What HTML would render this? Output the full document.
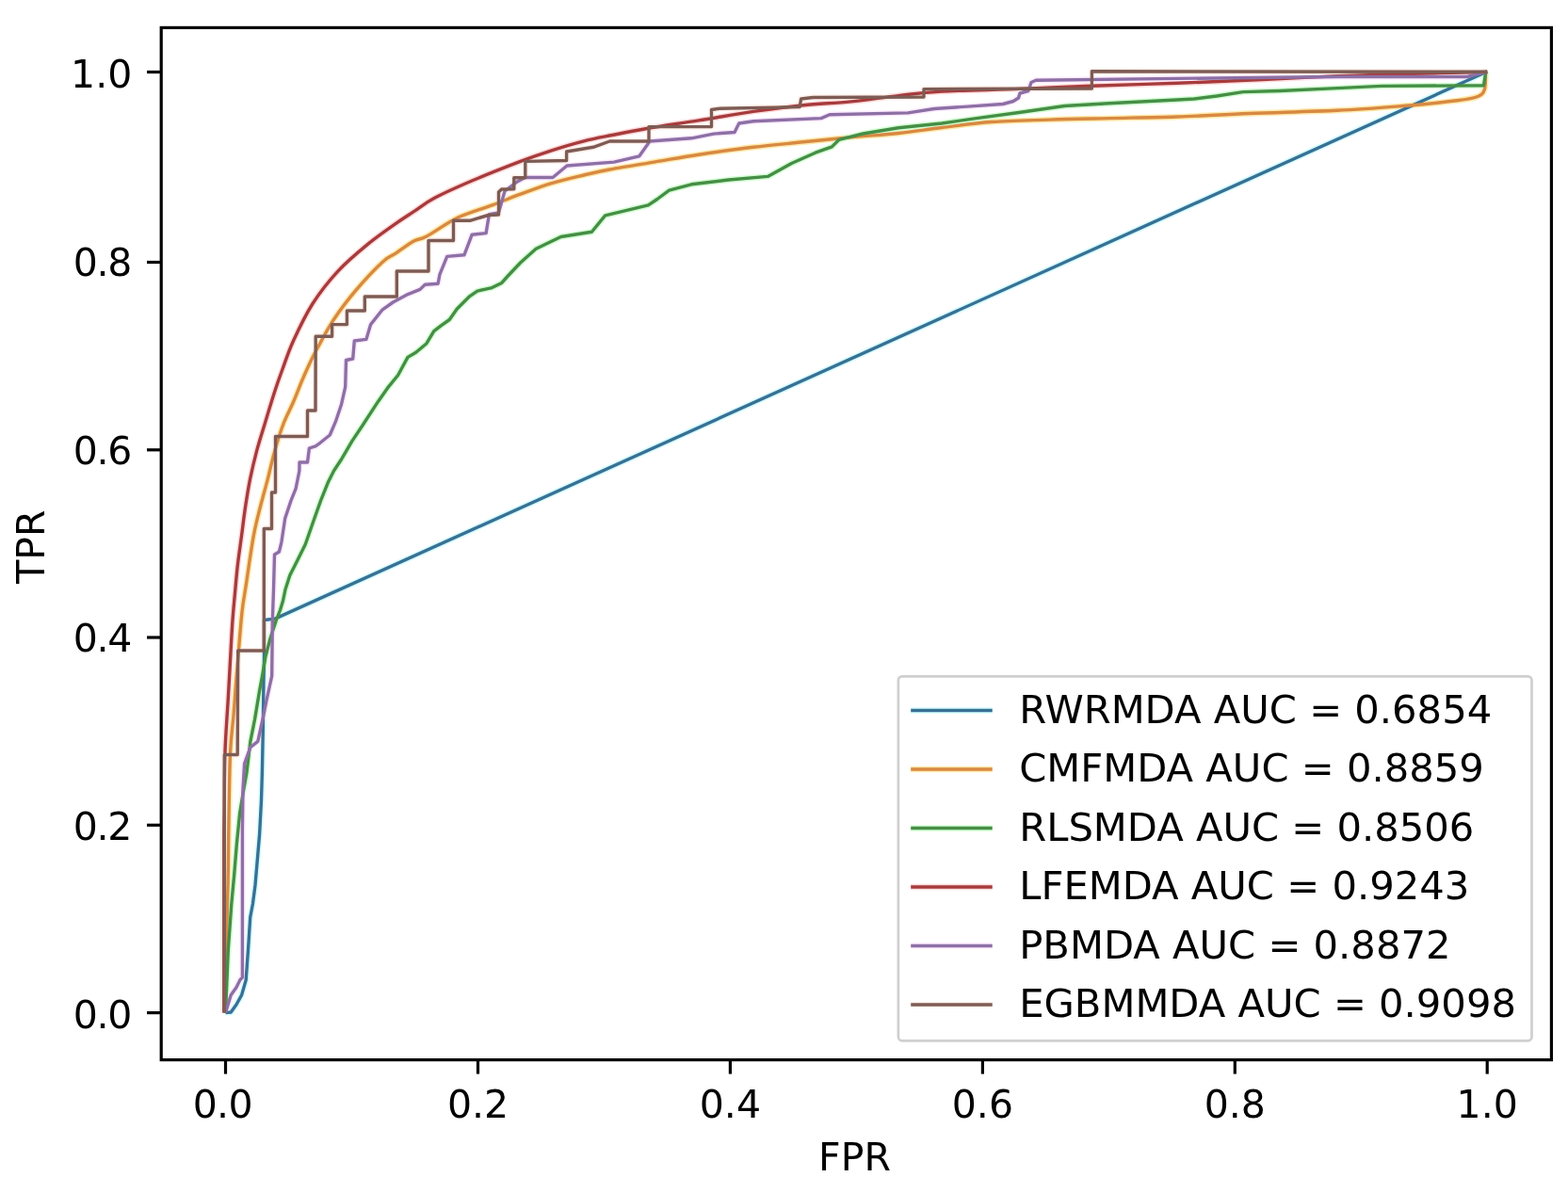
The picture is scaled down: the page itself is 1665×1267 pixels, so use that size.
<!DOCTYPE html>
<html><head><meta charset="utf-8"><title>ROC</title>
<style>
html,body{margin:0;padding:0;background:#fff;overflow:hidden}
svg{display:block}

.t{font-family:"DejaVu Sans","Liberation Sans",sans-serif;font-size:41px;fill:#000}
.t.lg{font-size:41.7px}
</style></head><body>
<svg width="1665" height="1267" viewBox="0 0 1665 1267">
<rect x="0" y="0" width="1665" height="1267" fill="#fff"/>
<path d="M239.5,1075.6 L245.2,1075.0 L250.9,1067.0 L256.6,1056.7 L261.2,1040.7 L263.5,1008.6 L265.7,974.3 L268.4,960.0 L271.0,940.0 L272.8,919.0 L275.6,886.0 L277.5,850.0 L278.4,820.0 L279.3,775.0 L280.0,720.0 L280.5,700.0 L280.5,658.5 L292.0,657.1 L1579.2,76.0" fill="none" stroke="#d2ffff" stroke-width="6.4" stroke-linejoin="round" stroke-linecap="butt"/>
<path d="M239.3,1075.6 C239.5,1063.0 240.1,1022.6 240.5,1000.0 C240.9,977.4 241.6,960.0 242.0,940.0 C242.4,920.0 242.4,903.3 242.8,880.0 C243.2,856.7 243.6,820.0 244.5,800.0 C245.4,780.0 246.9,773.3 248.0,760.0 C249.1,746.7 250.1,731.7 251.0,720.0 C251.9,708.3 252.5,702.0 253.5,690.0 C254.5,678.0 255.9,659.4 257.2,648.3 C258.4,637.1 259.0,636.4 261.0,623.1 C263.0,609.8 266.7,582.9 269.4,568.4 C272.1,553.9 274.5,545.9 277.0,536.0 C279.5,526.1 281.7,518.9 284.2,509.2 C286.7,499.5 289.2,487.9 292.0,478.0 C294.8,468.1 297.8,458.3 301.0,450.0 C304.2,441.7 307.4,436.3 311.0,428.0 C314.6,419.7 318.7,408.6 322.5,400.0 C326.3,391.4 328.4,386.2 333.6,376.2 C338.9,366.2 346.6,351.3 354.0,340.0 C361.4,328.7 369.1,318.7 377.8,308.4 C386.5,298.1 399.0,284.9 406.0,278.4 C413.0,271.8 414.4,272.8 420.0,269.1 C425.6,265.4 433.9,259.0 439.4,256.0 C444.9,253.0 445.3,255.1 453.1,250.9 C460.9,246.7 474.7,236.5 486.3,231.0 C497.9,225.5 511.7,221.9 522.7,217.8 C533.8,213.7 542.1,210.1 552.6,206.2 C563.1,202.3 574.5,198.0 585.7,194.6 C596.9,191.2 609.7,188.4 620.0,186.0 C630.3,183.6 634.9,182.3 647.4,180.0 C659.9,177.7 678.9,174.7 694.7,172.1 C710.5,169.5 724.5,166.8 742.0,164.2 C759.5,161.6 781.5,158.5 800.0,156.3 C818.5,154.1 835.8,152.6 853.1,150.8 C870.4,149.1 886.8,147.4 903.6,145.8 C920.4,144.2 938.0,143.2 954.1,141.5 C970.2,139.8 983.6,137.5 1000.0,135.5 C1016.4,133.5 1033.3,130.9 1052.5,129.5 C1071.7,128.1 1094.1,127.8 1114.9,127.1 C1135.7,126.4 1154.9,126.1 1177.4,125.6 C1199.9,125.1 1225.2,124.8 1250.0,124.0 C1274.8,123.2 1298.2,121.6 1326.5,120.5 C1354.8,119.4 1392.8,118.6 1420.0,117.3 C1447.2,116.0 1468.7,114.2 1489.9,112.5 C1511.1,110.8 1533.7,108.5 1547.0,106.8 C1560.3,105.1 1564.9,104.3 1569.8,102.2 C1574.7,100.1 1575.3,98.4 1576.6,94.2 C1577.7,90.0 1577.3,80.0 1577.7,77.0 C1578.1,76.5 1579.0,76.6 1579.2,76.5" fill="none" stroke="#ffeaac" stroke-width="6.4" stroke-linejoin="round" stroke-linecap="butt"/>
<path d="M239.5,1075.6 L242.3,1008.6 L245.8,960.0 L248.6,930.0 L251.3,897.0 L254.6,864.0 L258.0,843.0 L262.0,820.0 L265.9,787.3 L270.6,763.6 L275.3,735.2 L279.0,715.0 L282.0,697.0 L287.0,678.0 L293.0,659.4 L297.5,648.0 L300.5,638.0 L303.0,626.0 L307.8,611.1 L315.4,596.0 L324.2,578.3 L333.0,553.0 L340.6,531.6 L348.2,512.6 L354.5,500.0 L362.9,487.2 L373.9,468.4 L385.0,451.8 L401.5,426.4 L412.5,410.8 L422.6,398.5 L433.0,379.4 L441.7,374.2 L453.0,364.7 L460.8,351.6 L468.6,345.6 L477.3,339.5 L485.1,328.2 L498.1,315.2 L506.8,309.1 L522.4,305.6 L532.8,300.4 L538.9,293.5 L552.6,279.0 L569.1,264.2 L595.6,251.5 L628.4,246.3 L642.6,228.9 L688.4,217.9 L697.9,211.5 L710.5,202.1 L734.2,195.8 L773.6,191.0 L815.3,187.4 L840.5,173.5 L865.8,162.2 L883.4,155.9 L891.0,148.3 L916.3,142.0 L954.1,135.7 L1000.0,131.0 L1036.8,125.6 L1083.7,119.3 L1130.5,112.5 L1177.4,109.8 L1250.0,106.0 L1268.0,105.0 L1292.0,102.0 L1320.0,97.6 L1359.0,96.5 L1420.0,93.6 L1467.0,91.4 L1575.5,90.8 L1577.7,76.5 L1579.2,76.5" fill="none" stroke="#d3ffd3" stroke-width="6.4" stroke-linejoin="round" stroke-linecap="butt"/>
<path d="M237.8,1075.6 C237.8,1046.3 237.8,935.9 237.8,900.0 C237.9,864.1 238.0,877.0 238.2,860.0 C238.4,843.0 238.3,817.5 239.0,798.0 C239.7,778.5 241.1,761.8 242.2,743.0 C243.3,724.2 244.6,699.3 245.4,685.0 C246.2,670.7 246.4,666.8 247.1,657.2 C247.8,647.6 248.8,637.5 249.7,627.6 C250.6,617.7 251.4,607.9 252.6,598.0 C253.8,588.1 255.3,578.3 256.6,568.4 C257.9,558.5 259.0,548.7 260.5,538.8 C262.0,528.9 263.5,519.1 265.5,509.2 C267.5,499.3 269.8,489.5 272.4,479.6 C275.0,469.7 278.1,460.3 281.2,450.0 C284.3,439.7 287.9,427.7 291.0,418.0 C294.1,408.3 296.6,401.3 300.0,392.0 C303.4,382.7 306.2,373.6 311.5,362.0 C316.8,350.4 324.1,334.9 332.0,322.5 C339.9,310.1 349.2,298.3 359.0,287.8 C368.8,277.3 380.3,267.8 390.5,259.4 C400.7,251.0 411.9,243.4 420.0,237.6 C428.1,231.8 432.5,229.2 439.4,224.7 C446.3,220.1 450.8,215.9 461.4,210.3 C472.0,204.7 487.6,197.8 502.8,191.3 C518.0,184.8 538.8,176.7 552.6,171.4 C566.4,166.2 574.5,163.4 585.7,159.8 C596.9,156.2 609.3,152.5 620.0,149.8 C630.7,147.1 638.9,145.7 650.0,143.5 C661.1,141.3 671.5,139.1 686.8,136.5 C702.1,133.9 723.1,130.9 742.0,127.9 C760.9,124.9 781.5,121.1 800.0,118.4 C818.5,115.7 835.8,113.5 853.1,111.7 C870.4,110.0 886.8,109.6 903.6,107.9 C920.4,106.2 938.0,103.4 954.1,101.6 C970.2,99.8 978.4,98.3 1000.0,97.1 C1021.6,95.9 1057.3,95.4 1083.7,94.4 C1110.1,93.4 1130.9,92.2 1158.6,91.2 C1186.3,90.2 1219.8,89.3 1250.0,88.2 C1280.2,87.1 1311.7,85.7 1340.0,84.5 C1368.3,83.3 1393.1,81.8 1420.0,80.8 C1446.9,79.8 1474.8,79.0 1501.3,78.3 C1527.8,77.6 1566.2,76.8 1579.2,76.5" fill="none" stroke="#ffdbdc" stroke-width="6.4" stroke-linejoin="round" stroke-linecap="butt"/>
<path d="M239.5,1075.6 L245.2,1056.7 L250.9,1048.7 L254.9,1040.7 L257.4,1038.0 L257.4,880.0 L258.0,837.8 L259.6,811.0 L265.9,793.6 L273.8,787.3 L280.0,759.0 L283.2,743.0 L288.7,717.9 L289.3,660.0 L290.5,626.0 L291.5,589.0 L296.4,586.0 L298.9,575.8 L302.7,550.5 L309.0,531.6 L314.1,518.9 L317.9,500.0 L318.0,491.0 L326.5,491.0 L328.4,476.0 L335.0,473.8 L340.0,470.3 L350.3,462.0 L356.4,447.7 L362.6,429.2 L366.7,410.8 L367.5,382.5 L374.7,381.0 L376.3,362.0 L388.9,360.4 L393.6,344.6 L406.2,328.8 L417.3,321.0 L433.0,312.6 L446.0,307.4 L451.3,302.2 L465.1,301.3 L466.9,291.7 L474.7,272.4 L492.9,270.8 L501.2,249.2 L516.1,247.6 L519.4,227.7 L529.4,226.0 L536.0,203.0 L549.2,192.9 L557.5,188.5 L587.0,188.5 L602.0,176.0 L652.0,172.1 L678.9,165.8 L690.0,150.0 L734.2,146.8 L757.9,142.1 L780.0,140.5 L784.7,131.0 L800.0,128.7 L872.0,125.6 L880.9,121.8 L964.2,119.9 L992.0,115.5 L1027.5,113.1 L1065.0,110.5 L1076.0,107.5 L1081.5,104.0 L1083.0,99.0 L1092.0,96.5 L1095.0,87.5 L1100.0,85.2 L1250.0,83.4 L1420.0,81.5 L1558.0,81.5 L1575.0,77.0 L1579.2,76.5" fill="none" stroke="#ffebff" stroke-width="6.4" stroke-linejoin="round" stroke-linecap="butt"/>
<path d="M238.3,1075.6 L238.3,801.5 L252.2,801.5 L252.7,691.0 L280.3,691.0 L280.3,561.5 L288.5,561.5 L288.5,523.0 L292.5,523.0 L292.5,463.5 L326.5,463.5 L326.5,436.0 L335.0,436.0 L335.2,357.3 L352.6,357.3 L352.6,344.6 L368.4,344.6 L368.4,330.0 L387.3,330.0 L387.3,315.0 L421.3,315.0 L421.3,288.0 L455.0,288.0 L455.0,255.5 L481.5,255.5 L481.5,234.3 L499.0,234.3 L518.6,228.5 L529.5,228.0 L529.5,204.0 L532.6,201.0 L545.8,200.8 L545.8,188.8 L557.8,188.8 L557.8,171.4 L601.6,170.5 L601.6,161.0 L630.0,156.3 L647.4,150.0 L689.0,150.0 L689.0,134.6 L755.5,134.6 L755.5,116.5 L764.2,115.3 L849.3,113.6 L850.6,105.0 L863.2,103.5 L981.0,103.0 L981.0,94.6 L1159.4,94.0 L1159.4,75.8 L1579.2,76.3" fill="none" stroke="#fff0ea" stroke-width="6.4" stroke-linejoin="round" stroke-linecap="butt"/>
<path d="M239.5,1075.6 L245.2,1075.0 L250.9,1067.0 L256.6,1056.7 L261.2,1040.7 L263.5,1008.6 L265.7,974.3 L268.4,960.0 L271.0,940.0 L272.8,919.0 L275.6,886.0 L277.5,850.0 L278.4,820.0 L279.3,775.0 L280.0,720.0 L280.5,700.0 L280.5,658.5 L292.0,657.1 L1579.2,76.0" fill="none" stroke="#397095" stroke-width="3.4" stroke-linejoin="round" stroke-linecap="butt"/>
<path d="M239.3,1075.6 C239.5,1063.0 240.1,1022.6 240.5,1000.0 C240.9,977.4 241.6,960.0 242.0,940.0 C242.4,920.0 242.4,903.3 242.8,880.0 C243.2,856.7 243.6,820.0 244.5,800.0 C245.4,780.0 246.9,773.3 248.0,760.0 C249.1,746.7 250.1,731.7 251.0,720.0 C251.9,708.3 252.5,702.0 253.5,690.0 C254.5,678.0 255.9,659.4 257.2,648.3 C258.4,637.1 259.0,636.4 261.0,623.1 C263.0,609.8 266.7,582.9 269.4,568.4 C272.1,553.9 274.5,545.9 277.0,536.0 C279.5,526.1 281.7,518.9 284.2,509.2 C286.7,499.5 289.2,487.9 292.0,478.0 C294.8,468.1 297.8,458.3 301.0,450.0 C304.2,441.7 307.4,436.3 311.0,428.0 C314.6,419.7 318.7,408.6 322.5,400.0 C326.3,391.4 328.4,386.2 333.6,376.2 C338.9,366.2 346.6,351.3 354.0,340.0 C361.4,328.7 369.1,318.7 377.8,308.4 C386.5,298.1 399.0,284.9 406.0,278.4 C413.0,271.8 414.4,272.8 420.0,269.1 C425.6,265.4 433.9,259.0 439.4,256.0 C444.9,253.0 445.3,255.1 453.1,250.9 C460.9,246.7 474.7,236.5 486.3,231.0 C497.9,225.5 511.7,221.9 522.7,217.8 C533.8,213.7 542.1,210.1 552.6,206.2 C563.1,202.3 574.5,198.0 585.7,194.6 C596.9,191.2 609.7,188.4 620.0,186.0 C630.3,183.6 634.9,182.3 647.4,180.0 C659.9,177.7 678.9,174.7 694.7,172.1 C710.5,169.5 724.5,166.8 742.0,164.2 C759.5,161.6 781.5,158.5 800.0,156.3 C818.5,154.1 835.8,152.6 853.1,150.8 C870.4,149.1 886.8,147.4 903.6,145.8 C920.4,144.2 938.0,143.2 954.1,141.5 C970.2,139.8 983.6,137.5 1000.0,135.5 C1016.4,133.5 1033.3,130.9 1052.5,129.5 C1071.7,128.1 1094.1,127.8 1114.9,127.1 C1135.7,126.4 1154.9,126.1 1177.4,125.6 C1199.9,125.1 1225.2,124.8 1250.0,124.0 C1274.8,123.2 1298.2,121.6 1326.5,120.5 C1354.8,119.4 1392.8,118.6 1420.0,117.3 C1447.2,116.0 1468.7,114.2 1489.9,112.5 C1511.1,110.8 1533.7,108.5 1547.0,106.8 C1560.3,105.1 1564.9,104.3 1569.8,102.2 C1574.7,100.1 1575.3,98.4 1576.6,94.2 C1577.7,90.0 1577.3,80.0 1577.7,77.0 C1578.1,76.5 1579.0,76.6 1579.2,76.5" fill="none" stroke="#d88943" stroke-width="3.4" stroke-linejoin="round" stroke-linecap="butt"/>
<path d="M239.5,1075.6 L242.3,1008.6 L245.8,960.0 L248.6,930.0 L251.3,897.0 L254.6,864.0 L258.0,843.0 L262.0,820.0 L265.9,787.3 L270.6,763.6 L275.3,735.2 L279.0,715.0 L282.0,697.0 L287.0,678.0 L293.0,659.4 L297.5,648.0 L300.5,638.0 L303.0,626.0 L307.8,611.1 L315.4,596.0 L324.2,578.3 L333.0,553.0 L340.6,531.6 L348.2,512.6 L354.5,500.0 L362.9,487.2 L373.9,468.4 L385.0,451.8 L401.5,426.4 L412.5,410.8 L422.6,398.5 L433.0,379.4 L441.7,374.2 L453.0,364.7 L460.8,351.6 L468.6,345.6 L477.3,339.5 L485.1,328.2 L498.1,315.2 L506.8,309.1 L522.4,305.6 L532.8,300.4 L538.9,293.5 L552.6,279.0 L569.1,264.2 L595.6,251.5 L628.4,246.3 L642.6,228.9 L688.4,217.9 L697.9,211.5 L710.5,202.1 L734.2,195.8 L773.6,191.0 L815.3,187.4 L840.5,173.5 L865.8,162.2 L883.4,155.9 L891.0,148.3 L916.3,142.0 L954.1,135.7 L1000.0,131.0 L1036.8,125.6 L1083.7,119.3 L1130.5,112.5 L1177.4,109.8 L1250.0,106.0 L1268.0,105.0 L1292.0,102.0 L1320.0,97.6 L1359.0,96.5 L1420.0,93.6 L1467.0,91.4 L1575.5,90.8 L1577.7,76.5 L1579.2,76.5" fill="none" stroke="#468e46" stroke-width="3.4" stroke-linejoin="round" stroke-linecap="butt"/>
<path d="M237.8,1075.6 C237.8,1046.3 237.8,935.9 237.8,900.0 C237.9,864.1 238.0,877.0 238.2,860.0 C238.4,843.0 238.3,817.5 239.0,798.0 C239.7,778.5 241.1,761.8 242.2,743.0 C243.3,724.2 244.6,699.3 245.4,685.0 C246.2,670.7 246.4,666.8 247.1,657.2 C247.8,647.6 248.8,637.5 249.7,627.6 C250.6,617.7 251.4,607.9 252.6,598.0 C253.8,588.1 255.3,578.3 256.6,568.4 C257.9,558.5 259.0,548.7 260.5,538.8 C262.0,528.9 263.5,519.1 265.5,509.2 C267.5,499.3 269.8,489.5 272.4,479.6 C275.0,469.7 278.1,460.3 281.2,450.0 C284.3,439.7 287.9,427.7 291.0,418.0 C294.1,408.3 296.6,401.3 300.0,392.0 C303.4,382.7 306.2,373.6 311.5,362.0 C316.8,350.4 324.1,334.9 332.0,322.5 C339.9,310.1 349.2,298.3 359.0,287.8 C368.8,277.3 380.3,267.8 390.5,259.4 C400.7,251.0 411.9,243.4 420.0,237.6 C428.1,231.8 432.5,229.2 439.4,224.7 C446.3,220.1 450.8,215.9 461.4,210.3 C472.0,204.7 487.6,197.8 502.8,191.3 C518.0,184.8 538.8,176.7 552.6,171.4 C566.4,166.2 574.5,163.4 585.7,159.8 C596.9,156.2 609.3,152.5 620.0,149.8 C630.7,147.1 638.9,145.7 650.0,143.5 C661.1,141.3 671.5,139.1 686.8,136.5 C702.1,133.9 723.1,130.9 742.0,127.9 C760.9,124.9 781.5,121.1 800.0,118.4 C818.5,115.7 835.8,113.5 853.1,111.7 C870.4,110.0 886.8,109.6 903.6,107.9 C920.4,106.2 938.0,103.4 954.1,101.6 C970.2,99.8 978.4,98.3 1000.0,97.1 C1021.6,95.9 1057.3,95.4 1083.7,94.4 C1110.1,93.4 1130.9,92.2 1158.6,91.2 C1186.3,90.2 1219.8,89.3 1250.0,88.2 C1280.2,87.1 1311.7,85.7 1340.0,84.5 C1368.3,83.3 1393.1,81.8 1420.0,80.8 C1446.9,79.8 1474.8,79.0 1501.3,78.3 C1527.8,77.6 1566.2,76.8 1579.2,76.5" fill="none" stroke="#a73b3c" stroke-width="3.4" stroke-linejoin="round" stroke-linecap="butt"/>
<path d="M239.5,1075.6 L245.2,1056.7 L250.9,1048.7 L254.9,1040.7 L257.4,1038.0 L257.4,880.0 L258.0,837.8 L259.6,811.0 L265.9,793.6 L273.8,787.3 L280.0,759.0 L283.2,743.0 L288.7,717.9 L289.3,660.0 L290.5,626.0 L291.5,589.0 L296.4,586.0 L298.9,575.8 L302.7,550.5 L309.0,531.6 L314.1,518.9 L317.9,500.0 L318.0,491.0 L326.5,491.0 L328.4,476.0 L335.0,473.8 L340.0,470.3 L350.3,462.0 L356.4,447.7 L362.6,429.2 L366.7,410.8 L367.5,382.5 L374.7,381.0 L376.3,362.0 L388.9,360.4 L393.6,344.6 L406.2,328.8 L417.3,321.0 L433.0,312.6 L446.0,307.4 L451.3,302.2 L465.1,301.3 L466.9,291.7 L474.7,272.4 L492.9,270.8 L501.2,249.2 L516.1,247.6 L519.4,227.7 L529.4,226.0 L536.0,203.0 L549.2,192.9 L557.5,188.5 L587.0,188.5 L602.0,176.0 L652.0,172.1 L678.9,165.8 L690.0,150.0 L734.2,146.8 L757.9,142.1 L780.0,140.5 L784.7,131.0 L800.0,128.7 L872.0,125.6 L880.9,121.8 L964.2,119.9 L992.0,115.5 L1027.5,113.1 L1065.0,110.5 L1076.0,107.5 L1081.5,104.0 L1083.0,99.0 L1092.0,96.5 L1095.0,87.5 L1100.0,85.2 L1250.0,83.4 L1420.0,81.5 L1558.0,81.5 L1575.0,77.0 L1579.2,76.5" fill="none" stroke="#8c70a5" stroke-width="3.4" stroke-linejoin="round" stroke-linecap="butt"/>
<path d="M238.3,1075.6 L238.3,801.5 L252.2,801.5 L252.7,691.0 L280.3,691.0 L280.3,561.5 L288.5,561.5 L288.5,523.0 L292.5,523.0 L292.5,463.5 L326.5,463.5 L326.5,436.0 L335.0,436.0 L335.2,357.3 L352.6,357.3 L352.6,344.6 L368.4,344.6 L368.4,330.0 L387.3,330.0 L387.3,315.0 L421.3,315.0 L421.3,288.0 L455.0,288.0 L455.0,255.5 L481.5,255.5 L481.5,234.3 L499.0,234.3 L518.6,228.5 L529.5,228.0 L529.5,204.0 L532.6,201.0 L545.8,200.8 L545.8,188.8 L557.8,188.8 L557.8,171.4 L601.6,170.5 L601.6,161.0 L630.0,156.3 L647.4,150.0 L689.0,150.0 L689.0,134.6 L755.5,134.6 L755.5,116.5 L764.2,115.3 L849.3,113.6 L850.6,105.0 L863.2,103.5 L981.0,103.0 L981.0,94.6 L1159.4,94.0 L1159.4,75.8 L1579.2,76.3" fill="none" stroke="#7d5c55" stroke-width="3.4" stroke-linejoin="round" stroke-linecap="butt"/>
<rect x="171.2" y="29.4" width="1476.2" height="1096.2" fill="none" stroke="#000" stroke-width="3.2"/>
<line x1="239.5" y1="1125.6" x2="239.5" y2="1140.6" stroke="#000" stroke-width="3.2"/>
<line x1="171.2" y1="1075.6" x2="156.0" y2="1075.6" stroke="#000" stroke-width="3.2"/>
<text x="236.6" y="1187.4" text-anchor="middle" class="t" textLength="63.8" lengthAdjust="spacing">0.0</text>
<text x="140.3" y="1091.9" text-anchor="end" class="t" textLength="62.6" lengthAdjust="spacing">0.0</text>
<line x1="507.5" y1="1125.6" x2="507.5" y2="1140.6" stroke="#000" stroke-width="3.2"/>
<line x1="171.2" y1="876.3" x2="156.0" y2="876.3" stroke="#000" stroke-width="3.2"/>
<text x="507.5" y="1187.4" text-anchor="middle" class="t">0.2</text>
<text x="140.3" y="892.1" text-anchor="end" class="t" textLength="62.6" lengthAdjust="spacing">0.2</text>
<line x1="775.4" y1="1125.6" x2="775.4" y2="1140.6" stroke="#000" stroke-width="3.2"/>
<line x1="171.2" y1="677.0" x2="156.0" y2="677.0" stroke="#000" stroke-width="3.2"/>
<text x="775.4" y="1187.4" text-anchor="middle" class="t">0.4</text>
<text x="140.3" y="692.3" text-anchor="end" class="t" textLength="62.6" lengthAdjust="spacing">0.4</text>
<line x1="1043.4" y1="1125.6" x2="1043.4" y2="1140.6" stroke="#000" stroke-width="3.2"/>
<line x1="171.2" y1="477.8" x2="156.0" y2="477.8" stroke="#000" stroke-width="3.2"/>
<text x="1043.4" y="1187.4" text-anchor="middle" class="t">0.6</text>
<text x="140.3" y="492.5" text-anchor="end" class="t" textLength="62.6" lengthAdjust="spacing">0.6</text>
<line x1="1311.3" y1="1125.6" x2="1311.3" y2="1140.6" stroke="#000" stroke-width="3.2"/>
<line x1="171.2" y1="278.5" x2="156.0" y2="278.5" stroke="#000" stroke-width="3.2"/>
<text x="1311.3" y="1187.4" text-anchor="middle" class="t">0.8</text>
<text x="140.3" y="292.7" text-anchor="end" class="t" textLength="62.6" lengthAdjust="spacing">0.8</text>
<line x1="1579.2" y1="1125.6" x2="1579.2" y2="1140.6" stroke="#000" stroke-width="3.2"/>
<line x1="171.2" y1="76.5" x2="156.0" y2="76.5" stroke="#000" stroke-width="3.2"/>
<text x="1579.2" y="1187.4" text-anchor="middle" class="t">1.0</text>
<text x="140.3" y="92.9" text-anchor="end" class="t">1.0</text>
<text x="907.5" y="1243" text-anchor="middle" class="t">FPR</text>
<text transform="translate(47.4,580.6) rotate(-90)" text-anchor="middle" class="t">TPR</text>
<rect x="953.9" y="718.3" width="672.6" height="387" rx="4" ry="4" fill="#fff" fill-opacity="0.8" stroke="#cfcfcf" stroke-width="2.7"/>
<line x1="967.2" y1="754.5" x2="1053.7" y2="754.5" stroke="#d2ffff" stroke-width="6.4"/>
<line x1="967.2" y1="754.5" x2="1053.7" y2="754.5" stroke="#397095" stroke-width="3.4"/>
<text x="1082.2" y="767.5" class="t lg">RWRMDA AUC = 0.6854</text>
<line x1="967.2" y1="817.0" x2="1053.7" y2="817.0" stroke="#ffeaac" stroke-width="6.4"/>
<line x1="967.2" y1="817.0" x2="1053.7" y2="817.0" stroke="#d88943" stroke-width="3.4"/>
<text x="1082.2" y="830.0" class="t lg">CMFMDA AUC = 0.8859</text>
<line x1="967.2" y1="879.5" x2="1053.7" y2="879.5" stroke="#d3ffd3" stroke-width="6.4"/>
<line x1="967.2" y1="879.5" x2="1053.7" y2="879.5" stroke="#468e46" stroke-width="3.4"/>
<text x="1082.2" y="892.5" class="t lg">RLSMDA AUC = 0.8506</text>
<line x1="967.2" y1="942.0" x2="1053.7" y2="942.0" stroke="#ffdbdc" stroke-width="6.4"/>
<line x1="967.2" y1="942.0" x2="1053.7" y2="942.0" stroke="#a73b3c" stroke-width="3.4"/>
<text x="1082.2" y="955.0" class="t lg">LFEMDA AUC = 0.9243</text>
<line x1="967.2" y1="1004.5" x2="1053.7" y2="1004.5" stroke="#ffebff" stroke-width="6.4"/>
<line x1="967.2" y1="1004.5" x2="1053.7" y2="1004.5" stroke="#8c70a5" stroke-width="3.4"/>
<text x="1082.2" y="1017.5" class="t lg">PBMDA AUC = 0.8872</text>
<line x1="967.2" y1="1067.0" x2="1053.7" y2="1067.0" stroke="#fff0ea" stroke-width="6.4"/>
<line x1="967.2" y1="1067.0" x2="1053.7" y2="1067.0" stroke="#7d5c55" stroke-width="3.4"/>
<text x="1082.2" y="1080.0" class="t lg">EGBMMDA AUC = 0.9098</text>
</svg>
</body></html>
